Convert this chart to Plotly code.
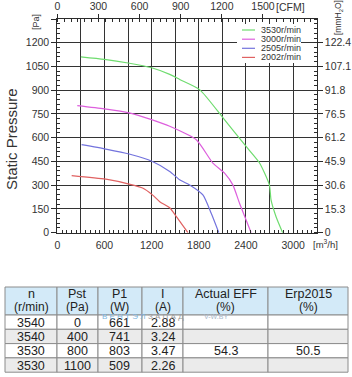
import plotly.graph_objects as go

W, H = 352, 377

# ---------------- data ----------------
series_names = ["3530r/min", "3000r/min", "2505r/min", "2002r/min"]
series_colors = ["#6fdc6f", "#dd5fdd", "#7373dd", "#e06262"]

flow_3530 = [300, 600, 900, 1200, 1430, 1557, 1810, 2106, 2402, 2571, 2698, 2719, 2783, 2867]
pst_3530 = [1111, 1095, 1072, 1042, 1000, 968, 904, 727, 545, 442, 302, 207, 101, 0]

flow_3000 = [254, 600, 913, 1200, 1430, 1768, 1979, 2128, 2233, 2318, 2402, 2466]
pst_3000 = [803, 782, 757, 714, 672, 587, 440, 376, 302, 186, 80, 0]

flow_2505 = [309, 618, 913, 1210, 1430, 1557, 1684, 1852, 1958, 2055]
pst_2505 = [556, 528, 497, 450, 387, 334, 302, 239, 123, 0]

flow_2002 = [183, 618, 913, 1091, 1210, 1303, 1430, 1515, 1662]
pst_2002 = [361, 338, 307, 281, 239, 196, 158, 101, 0]

x_tickvals = list(range(0, 3301, 300))
x_ticktext = ["0", " ", "600", " ", "1200", " ", "1800", " ", "2400", " ", "3000", " "]
y_tickvals = list(range(0, 1351, 150))
y_ticktext = ["0", "150", "300", "450", "600", "750", "900", "1050", "1200", " "]
cfm_tickvals = [0, 300, 600, 900, 1200, 1500]
mm_tickvals = [0, 15.3, 30.6, 45.9, 61.2, 76.5, 91.8, 107.1, 122.4]
mm_ticktext = ["0", "15.3", "30.6", "45.9", "61.2", "76.5", "91.8", "107.1", "122.4"]

tbl_header_top = ["n", "Pst", "P1", "I", "Actual EFF", "Erp2015"]
tbl_header_bot = ["(r/min)", "(Pa)", "(W)", "(A)", "(%)", "(%)"]
tbl_n = ["3540", "3540", "3530", "3530"]
tbl_pst = ["0", "400", "800", "1100"]
tbl_p1 = ["661", "741", "803", "509"]
tbl_i = ["2.88", "3.24", "3.47", "2.26"]
tbl_eff = ["", "", "54.3", ""]
tbl_erp = ["", "", "50.5", ""]

# ---------------- geometry helpers ----------------
def px(x):
    return x / W

def py(y):
    return 1 - y / H

X0, X1 = 57.3, 316.7
Y0, Y1 = 232.7, 19.0
NARROW = "Liberation Sans Narrow, Arial Narrow, Liberation Sans, Arial, sans-serif"
FONT = "Liberation Sans, Arial, sans-serif"
TXT = "#333333"
AX = "#2b2b2b"
GRID = "#333333"
NOGRID_MINOR = dict(showgrid=False)

fig = go.Figure()
curves = [(flow_3530, pst_3530), (flow_3000, pst_3000), (flow_2505, pst_2505), (flow_2002, pst_2002)]
for (fx, fy), name, col in zip(curves, series_names, series_colors):
    fig.add_trace(go.Scatter(x=fx, y=fy, mode="lines", name=name,
                             line=dict(color=col, width=1.2, shape="spline", smoothing=0.6),
                             showlegend=False, hoverinfo="skip"))

# invisible traces to activate the secondary / minor-tick axes
for xa, ya in [("x2", "y"), ("x", "y2"), ("x3", "y"), ("x", "y3")]:
    fig.add_trace(go.Scatter(x=[0], y=[0], xaxis=xa, yaxis=ya, mode="markers",
                             marker=dict(opacity=0), showlegend=False, hoverinfo="skip"))

tick_font = dict(family=NARROW, size=10.5, color=TXT)

fig.update_layout(
    template="none",
    width=W, height=H, margin=dict(l=0, r=0, t=0, b=0),
    paper_bgcolor="white", plot_bgcolor="white",
    font=dict(family=FONT, color=TXT),
    # main flow axis (m3/h): grid + labels
    xaxis=dict(domain=[px(X0), px(X1)], range=[0, 3300], tickmode="array",
               tickvals=x_tickvals, ticktext=x_ticktext,
               showgrid=True, gridcolor=GRID, gridwidth=1, zeroline=False,
               showline=True, linecolor=AX, linewidth=1,
               ticks="outside", ticklen=3, tickcolor="rgba(0,0,0,0)", tickfont=tick_font,
               anchor="y"),
    # minor ticks of the flow axis
    xaxis3=dict(overlaying="x", side="bottom", range=[0, 3300], tickmode="linear", tick0=0, dtick=60,
                ticks="inside", ticklen=3, tickcolor=AX, showticklabels=False,
                showgrid=False, zeroline=False, showline=False, anchor="y"),
    # CFM axis on top
    xaxis2=dict(overlaying="x", side="top", range=[0, 1892], tickmode="array",
                tickvals=cfm_tickvals, showgrid=False, zeroline=False,
                showline=True, linecolor=AX, linewidth=1,
                ticks="outside", ticklen=4, tickcolor=AX, tickfont=tick_font,
                minor=dict(ticks="inside", ticklen=3, dtick=50, tick0=0, tickcolor=AX, showgrid=False),
                anchor="y"),
    # pressure axis (Pa): grid + labels
    yaxis=dict(domain=[py(Y0), py(Y1)], range=[0, 1350], tickmode="array",
               tickvals=y_tickvals, ticktext=y_ticktext,
               showgrid=True, gridcolor=GRID, gridwidth=1, zeroline=False,
               showline=True, linecolor=AX, linewidth=1,
               ticks="outside", ticklen=5, tickcolor=AX, tickfont=tick_font,
               anchor="x"),
    yaxis3=dict(overlaying="y", side="left", range=[0, 1350], tickmode="linear", tick0=0, dtick=30,
                ticks="inside", ticklen=3, tickcolor=AX, showticklabels=False,
                showgrid=False, zeroline=False, showline=False, anchor="x"),
    # mmH2O axis on the right
    yaxis2=dict(overlaying="y", side="right", range=[0, 137.7], tickmode="array",
                tickvals=mm_tickvals, ticktext=mm_ticktext, showgrid=False, zeroline=False,
                showline=True, linecolor=AX, linewidth=1,
                ticks="outside", ticklen=5, tickcolor=AX, tickfont=tick_font,
                minor=dict(ticks="inside", ticklen=3, dtick=3.06, tick0=0, tickcolor=AX, showgrid=False),
                anchor="x"),
)

ann = []
shapes = []

def text(t, x, y, size, family=FONT, color=TXT, xanchor="center", angle=0):
    ann.append(dict(text=t, x=px(x), y=py(y), xref="paper", yref="paper",
                    xanchor=xanchor, yanchor="middle", textangle=angle, showarrow=False,
                    font=dict(size=size, color=color, family=family)))

# axis labels
text("Static Pressure", 11, 139, 15, angle=-90)
text("[Pa]", 36, 22, 9, angle=-90)
text("[mmH<sub>2</sub>O]", 339, 18, 8.5, angle=-90)
text("[m<sup>3</sup>/h]", 311, 244, 9.5, family=NARROW, xanchor="left")
text("[CFM]", 290, 7, 10.5, family=NARROW)

# manual legend (white box over grid)
shapes.append(dict(type="rect", xref="paper", yref="paper", x0=px(237), x1=px(301),
                   y0=py(63), y1=py(24), fillcolor="white", line=dict(width=0), layer="above"))
leg_y = [30, 39.2, 48.3, 57.4]
for name, col, ly in zip(series_names, series_colors, leg_y):
    shapes.append(dict(type="line", xref="paper", yref="paper", x0=px(242), x1=px(255),
                       y0=py(ly), y1=py(ly), line=dict(color=col, width=1.2), layer="above"))
    text(name, 259, ly, 9, xanchor="left")

# ---------------- table (built from the lists above) ----------------
col_edges = [5, 57, 98, 142, 183, 268, 348]
head_top, head_bot = 287, 315
row_h = 14.3
rows = list(zip(tbl_n, tbl_pst, tbl_p1, tbl_i, tbl_eff, tbl_erp))
row_fill = ["#ffffff", "#ebebeb"]
line_col = "#8c8c8c"
for j in range(6):
    xa, xb = col_edges[j], col_edges[j + 1]
    cx = (xa + xb) / 2
    shapes.append(dict(type="rect", xref="paper", yref="paper", x0=px(xa), x1=px(xb),
                       y0=py(head_bot), y1=py(head_top), fillcolor="#d3eaf8",
                       line=dict(color=line_col, width=1), layer="below"))
    text(tbl_header_top[j], cx, 294, 12.5, color="#222222")
    text(tbl_header_bot[j], cx, 307, 12, color="#222222")
    for i, row in enumerate(rows):
        ya = head_bot + i * row_h
        yb = ya + row_h
        shapes.append(dict(type="rect", xref="paper", yref="paper", x0=px(xa), x1=px(xb),
                           y0=py(yb), y1=py(ya), fillcolor=row_fill[i % 2],
                           line=dict(color=line_col, width=1), layer="below"))
        if row[j]:
            text(row[j], cx, (ya + yb) / 2 + 0.5, 12.5, family=NARROW, color="#222222")

# watermark text over the table
text("В Е Н Т Э Л", 100, 316, 8, color="#7db6e2", xanchor="left")
text("З А П А Д", 146, 316, 8, color="#9a9a9a", xanchor="left")
text("V-W.BY", 202, 316, 7, color="#a8b8cc", xanchor="left")

fig.update_layout(annotations=ann, shapes=shapes)
fig.write_html("out.html")
